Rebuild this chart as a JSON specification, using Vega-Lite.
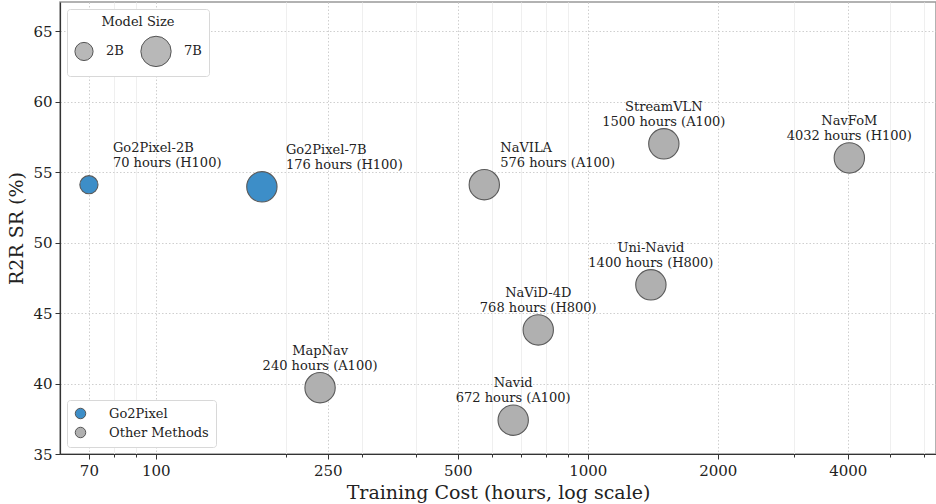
{
  "$schema": "https://vega.github.io/schema/vega-lite/v6.json",
  "width": 876,
  "height": 452,
  "autosize": {"type": "none"},
  "padding": {"left": 60, "top": 2, "right": 0, "bottom": 50},
  "background": "white",
  "config": {
    "font": "DejaVu Serif",
    "view": {"stroke": "#999", "strokeWidth": 1.5},
    "axis": {
      "labelFont": "DejaVu Serif",
      "titleFont": "DejaVu Serif",
      "labelFontSize": 15,
      "titleFontSize": 19,
      "titleFontWeight": "normal",
      "labelColor": "#222",
      "titleColor": "#222",
      "domainColor": "#333",
      "tickColor": "#333",
      "domainWidth": 1.2
    },
    "legend": {
      "labelFont": "DejaVu Serif",
      "titleFont": "DejaVu Serif"
    }
  },
  "data": {
    "values": [
      {"name": "Go2Pixel-2B", "cost": 70, "sr": 54.1, "model_size": "2B", "group": "Go2Pixel", "label": ["Go2Pixel-2B", "70 hours (H100)"]},
      {"name": "Go2Pixel-7B", "cost": 176, "sr": 53.95, "model_size": "7B", "group": "Go2Pixel", "label": ["Go2Pixel-7B", "176 hours (H100)"]},
      {"name": "NaVILA", "cost": 576, "sr": 54.1, "model_size": "7B", "group": "Other Methods", "label": ["NaVILA", "576 hours (A100)"]},
      {"name": "StreamVLN", "cost": 1500, "sr": 57.0, "model_size": "7B", "group": "Other Methods", "label": ["StreamVLN", "1500 hours (A100)"]},
      {"name": "NavFoM", "cost": 4032, "sr": 56.0, "model_size": "7B", "group": "Other Methods", "label": ["NavFoM", "4032 hours (H100)"]},
      {"name": "Uni-Navid", "cost": 1400, "sr": 47.0, "model_size": "7B", "group": "Other Methods", "label": ["Uni-Navid", "1400 hours (H800)"]},
      {"name": "NaViD-4D", "cost": 768, "sr": 43.8, "model_size": "7B", "group": "Other Methods", "label": ["NaViD-4D", "768 hours (H800)"]},
      {"name": "MapNav", "cost": 240, "sr": 39.7, "model_size": "7B", "group": "Other Methods", "label": ["MapNav", "240 hours (A100)"]},
      {"name": "Navid", "cost": 672, "sr": 37.4, "model_size": "7B", "group": "Other Methods", "label": ["Navid", "672 hours (A100)"]}
    ]
  },
  "encoding": {
    "x": {
      "field": "cost",
      "type": "quantitative",
      "scale": {"type": "log", "domain": [60, 6400], "nice": false},
      "axis": {
        "title": "Training Cost (hours, log scale)",
        "values": [70, 80, 90, 100, 200, 250, 300, 400, 500, 600, 700, 800, 900, 1000, 2000, 3000, 4000, 5000, 6000],
        "format": "d",
        "labelExpr": "indexof([70,100,250,500,1000,2000,4000], datum.value) >= 0 ? datum.label : ''",
        "labelPadding": 4,
        "titlePadding": 5,
        "grid": true,
        "gridColor": {"condition": {"test": "indexof([70,100,250,500,1000,2000,4000], datum.value) >= 0", "value": "#cfcfcf"}, "value": "#efefef"},
        "gridDash": {"condition": {"test": "indexof([70,100,250,500,1000,2000,4000], datum.value) >= 0", "value": [1.5, 2]}, "value": []},
        "tickSize": {"condition": {"test": "indexof([70,100,250,500,1000,2000,4000], datum.value) >= 0", "value": 5}, "value": 3},
        "labelFlush": false,
        "labelOverlap": false
      }
    },
    "y": {
      "field": "sr",
      "type": "quantitative",
      "scale": {"domain": [35, 67.06], "nice": false, "zero": false},
      "axis": {
        "title": "R2R SR (%)",
        "values": [35, 40, 45, 50, 55, 60, 65],
        "grid": true,
        "gridColor": "#cfcfcf",
        "gridDash": [1.5, 2],
        "tickSize": 5,
        "labelPadding": 3,
        "titlePadding": 6
      }
    }
  },
  "layer": [
    {
      "mark": {"type": "point", "shape": "circle", "filled": true, "opacity": 1, "stroke": "#5a5a5a", "strokeWidth": 1.1},
      "encoding": {
        "color": {
          "field": "group",
          "type": "nominal",
          "scale": {"domain": ["Go2Pixel", "Other Methods"], "range": ["#3d8ec8", "#b0b0b0"]},
          "legend": {
            "title": null,
            "orient": "bottom-left",
            "offset": 7,
            "symbolType": "circle",
            "symbolSize": 110,
            "symbolStrokeColor": "#555",
            "symbolStrokeWidth": 1,
            "labelFontSize": 13,
            "labelColor": "#222",
            "labelOffset": 22,
            "rowPadding": 4,
            "padding": 7,
            "fillColor": "white",
            "strokeColor": "#d8d8d8",
            "cornerRadius": 3
          }
        },
        "size": {
          "field": "model_size",
          "type": "nominal",
          "scale": {"domain": ["2B", "7B"], "range": [330, 920]},
          "legend": {
            "title": "Model Size",
            "orient": "top-left",
            "offset": 7,
            "direction": "horizontal",
            "titleAnchor": "middle",
            "titleFontSize": 13,
            "titleFontWeight": "normal",
            "titleColor": "#222",
            "titlePadding": 6,
            "labelFontSize": 13,
            "labelColor": "#222",
            "labelOffset": 12,
            "columnPadding": 14,
            "symbolType": "circle",
            "symbolFillColor": "#b8b8b8",
            "symbolStrokeColor": "#555",
            "symbolStrokeWidth": 1,
            "symbolOpacity": 1,
            "padding": 7,
            "fillColor": "white",
            "strokeColor": "#d8d8d8",
            "cornerRadius": 3
          }
        }
      }
    },
    {
      "transform": [{"filter": "datum.group == 'Go2Pixel'"}],
      "mark": {"type": "text", "align": "left", "baseline": "bottom", "dx": 24, "dy": -30, "fontSize": 13, "lineHeight": 15, "color": "#222", "font": "DejaVu Serif"},
      "encoding": {"text": {"field": "label"}}
    },
    {
      "transform": [{"filter": "datum.name == 'NaVILA'"}],
      "mark": {"type": "text", "align": "left", "baseline": "bottom", "dx": 16, "dy": -30, "fontSize": 13, "lineHeight": 15, "color": "#222", "font": "DejaVu Serif"},
      "encoding": {"text": {"field": "label"}}
    },
    {
      "transform": [{"filter": "datum.group != 'Go2Pixel' && datum.name != 'NaVILA'"}],
      "mark": {"type": "text", "align": "center", "baseline": "bottom", "dy": -30, "fontSize": 13, "lineHeight": 15, "color": "#222", "font": "DejaVu Serif"},
      "encoding": {"text": {"field": "label"}}
    }
  ]
}
